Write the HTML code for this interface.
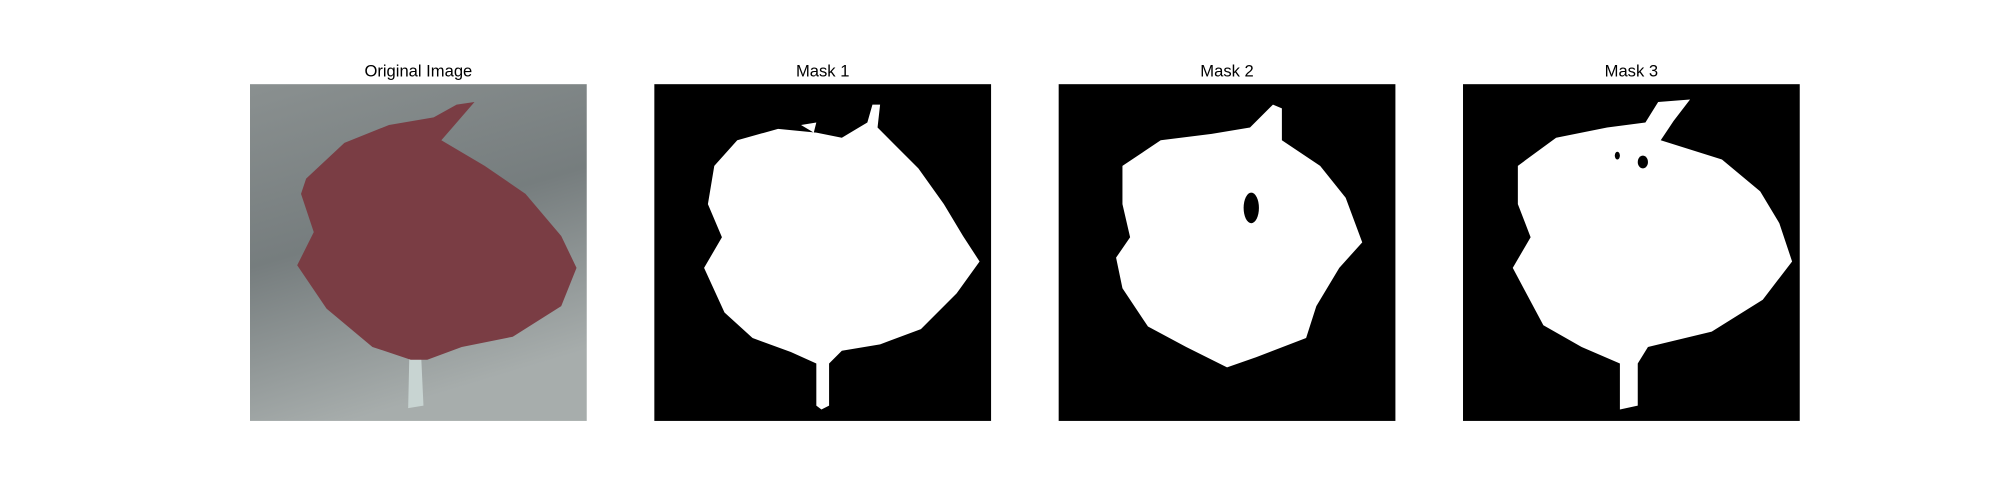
<!DOCTYPE html>
<html><head><meta charset="utf-8"><style>html,body{margin:0;padding:0;background:#fff}svg{display:block}</style></head>
<body>
<svg width="2000" height="500" viewBox="0 0 1568 392" xmlns="http://www.w3.org/2000/svg" font-family="Liberation Sans, DejaVu Sans, sans-serif">
<defs>
<linearGradient id="bg" x1="0" y1="0" x2="0.3" y2="1">
<stop offset="0" stop-color="#8a9090"/><stop offset="0.5" stop-color="#767d7e"/><stop offset="1" stop-color="#a7adac"/>
</linearGradient>
</defs>
<g>
<text x="328" y="60" font-size="13" text-anchor="middle">Original Image</text>
<rect x="196" y="66" width="264" height="264" fill="url(#bg)"/>
<path d="M321,275 L330,275 L332,318 L320,320 Z" fill="#c8d4d2"/>
<path d="M240,140 L270,112 L305,98 L340,92 L358,82 L372,80 L346,110 L380,130 L412,152 L440,185 L452,210 L440,240 L402,264 L362,272 L335,282 L322,282 L292,272 L256,242 L233,208 L246,182 L236,152 Z" fill="#7a3d44"/>
</g>
<g>
<text x="645" y="60" font-size="13" text-anchor="middle">Mask 1</text>
<rect x="513" y="66" width="264" height="264" fill="#000"/>
<path d="M560,130 L578,110 L610,101 L640,104 L660,108 L680,96 L684,82 L690,82 L688,100 L700,112 L720,132 L740,160 L755,185 L768,205 L750,230 L722,258 L690,270 L660,275 L650,285 L650,318 L644,321 L640,318 L640,285 L620,276 L590,265 L568,245 L552,210 L566,186 L555,160 Z M628,98 L640,96 L638,104 Z" fill="#fff"/>
</g>
<g>
<text x="962" y="60" font-size="13" text-anchor="middle">Mask 2</text>
<rect x="830" y="66" width="264" height="264" fill="#000"/>
<path d="M880,130 L910,110 L950,105 L980,100 L998,82 L1005,85 L1005,110 L1035,130 L1055,155 L1068,190 L1050,210 L1032,240 L1024,265 L985,280 L962,288 L930,272 L900,256 L880,226 L875,202 L886,186 L880,160 Z" fill="#fff"/>
<ellipse cx="981" cy="163" rx="6" ry="12" fill="#000"/>
</g>
<g>
<text x="1279" y="60" font-size="13" text-anchor="middle">Mask 3</text>
<rect x="1147" y="66" width="264" height="264" fill="#000"/>
<path d="M1190,130 L1220,108 L1260,100 L1290,96 L1300,80 L1325,78 L1312,95 L1302,110 L1350,125 L1380,150 L1395,175 L1405,205 L1382,235 L1342,260 L1292,272 L1284,285 L1284,318 L1270,321 L1270,285 L1240,272 L1210,255 L1186,210 L1200,186 L1190,160 Z" fill="#fff"/>
<ellipse cx="1268" cy="122" rx="2" ry="3" fill="#000"/>
<ellipse cx="1288" cy="127" rx="4" ry="5" fill="#000"/>
</g>
</svg>
</body></html>
